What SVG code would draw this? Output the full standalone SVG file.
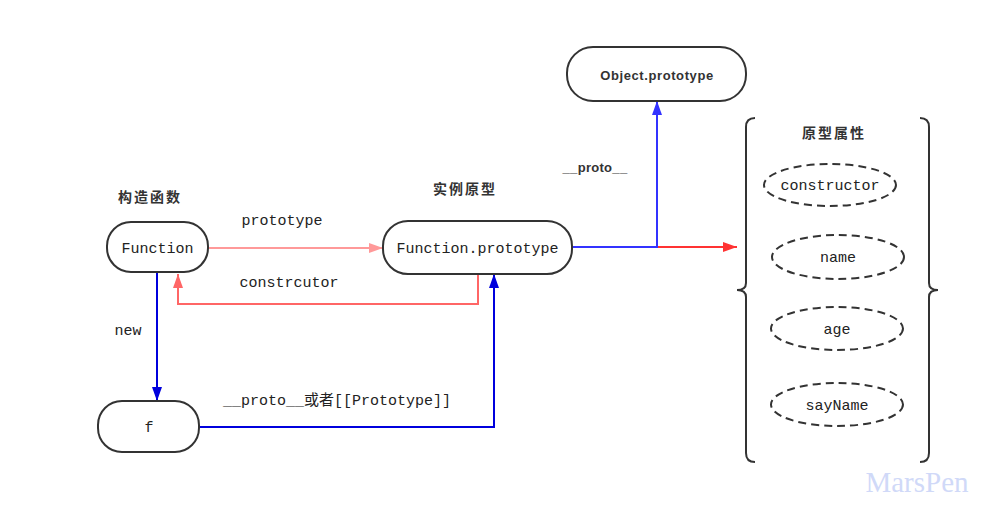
<svg xmlns="http://www.w3.org/2000/svg" width="1000" height="524" viewBox="0 0 1000 524">
<defs>
<style>
.node{fill:#fff;stroke:#333;stroke-width:2}
.mono{font-family:"Liberation Mono","Noto Sans CJK SC",monospace;font-size:15px;fill:#222}
.cjk{font-family:"Noto Sans CJK SC",sans-serif;font-size:14px;font-weight:bold;fill:#333;letter-spacing:2px}
.bold{font-family:"Liberation Sans",Arial,sans-serif;font-size:13px;font-weight:bold;fill:#333;letter-spacing:0.6px}
.ell{fill:#fff;stroke:#333;stroke-width:2;stroke-dasharray:8 5}
.brace{fill:none;stroke:#333;stroke-width:2}
.c{fill:none;stroke-width:2}
</style>
<marker id="aPink" markerWidth="14" markerHeight="10" refX="14" refY="5" orient="auto" markerUnits="userSpaceOnUse"><path d="M0,0 L14,5 L0,10 Z" fill="#FF9999"/></marker>
<marker id="aRed" markerWidth="14" markerHeight="10" refX="14" refY="5" orient="auto" markerUnits="userSpaceOnUse"><path d="M0,0 L14,5 L0,10 Z" fill="#FF6666"/></marker>
<marker id="aRed2" markerWidth="14" markerHeight="10" refX="14" refY="5" orient="auto" markerUnits="userSpaceOnUse"><path d="M0,0 L14,5 L0,10 Z" fill="#FF3333"/></marker>
<marker id="aBlue" markerWidth="14" markerHeight="10" refX="14" refY="5" orient="auto" markerUnits="userSpaceOnUse"><path d="M0,0 L14,5 L0,10 Z" fill="#0000DD"/></marker>
<marker id="aBlue2" markerWidth="14" markerHeight="10" refX="14" refY="5" orient="auto" markerUnits="userSpaceOnUse"><path d="M0,0 L14,5 L0,10 Z" fill="#3333FF"/></marker>
</defs>
<rect width="1000" height="524" fill="#fff"/>

<g id="connectors">
<path class="c" d="M208,248 L383,248" stroke="#FF9999" marker-end="url(#aPink)"/>
<path class="c" d="M478,274 L478,304 L178,304 L178,274" stroke="#FF6666" marker-end="url(#aRed)"/>
<path class="c" d="M157,272 L157,401" stroke="#0000DD" marker-end="url(#aBlue)"/>
<path class="c" d="M199,427 L494,427 L494,274" stroke="#0000DD" marker-end="url(#aBlue)"/>
<path class="c" d="M657,247 L737,247" stroke="#FF3333" marker-end="url(#aRed2)"/>
<path class="c" d="M572,247 L657,247 L657,101" stroke="#3333FF" marker-end="url(#aBlue2)"/>
<text class="mono" x="282" y="225" text-anchor="middle">prototype</text>
<text class="mono" x="289" y="287" text-anchor="middle">constrcutor</text>
<text class="mono" x="128" y="335" text-anchor="middle">new</text>
<text class="mono" x="337" y="405" text-anchor="middle">__proto__或者[[Prototype]]</text>
<text class="bold" x="595" y="172" text-anchor="middle" style="letter-spacing:0.3px">__proto__</text>
</g>

<g id="label-ctor"><text class="cjk" x="150" y="202" text-anchor="middle">构造函数</text></g>
<g id="label-inst"><text class="cjk" x="465" y="194" text-anchor="middle">实例原型</text></g>

<g id="node-function">
<rect class="node" x="107" y="222" width="101" height="50" rx="24"/>
<text class="mono" x="157.5" y="253" text-anchor="middle">Function</text>
</g>
<g id="node-function-prototype">
<rect class="node" x="383" y="221" width="189" height="53" rx="25"/>
<text class="mono" x="477.5" y="253" text-anchor="middle">Function.prototype</text>
</g>
<g id="node-object-prototype">
<rect class="node" x="567" y="47" width="179" height="54" rx="26"/>
<text class="bold" x="657" y="79.5" text-anchor="middle">Object.prototype</text>
</g>
<g id="node-f">
<rect class="node" x="98" y="401" width="101" height="51" rx="24"/>
<text class="mono" x="149" y="432" text-anchor="middle">f</text>
</g>

<g id="group-proto-props">
<path class="brace" d="M755,118 Q746,118 746,127 L746,283 Q746,290 737,290 Q746,290 746,297 L746,453 Q746,462 755,462"/>
<path class="brace" d="M920,118 Q929,118 929,127 L929,283 Q929,290 938,290 Q929,290 929,297 L929,453 Q929,462 920,462"/>
<text class="cjk" x="834" y="138" text-anchor="middle">原型属性</text>
</g>
<g id="prop-constructor">
<ellipse class="ell" cx="830" cy="185" rx="66" ry="21"/>
<text class="mono" x="830" y="190" text-anchor="middle">constructor</text>
</g>
<g id="prop-name">
<ellipse class="ell" cx="838" cy="257" rx="66" ry="22"/>
<text class="mono" x="838" y="262" text-anchor="middle">name</text>
</g>
<g id="prop-age">
<ellipse class="ell" cx="837" cy="328.5" rx="66" ry="21.5"/>
<text class="mono" x="837" y="334" text-anchor="middle">age</text>
</g>
<g id="prop-sayName">
<ellipse class="ell" cx="837" cy="404.5" rx="66" ry="21.5"/>
<text class="mono" x="837" y="410" text-anchor="middle">sayName</text>
</g>

<text x="917" y="492" text-anchor="middle" font-family="Liberation Serif,serif" font-size="29" fill="#D0D9F8">MarsPen</text>
</svg>
